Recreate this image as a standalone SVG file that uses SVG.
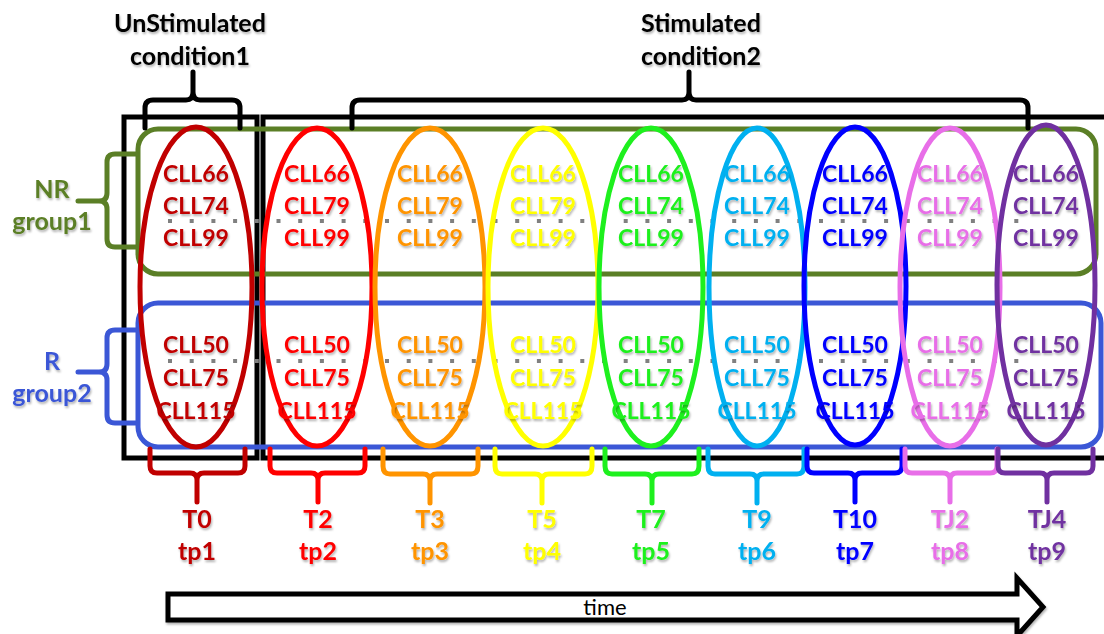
<svg xmlns="http://www.w3.org/2000/svg" width="1104" height="634" viewBox="0 0 1104 634">
<style>
text{font-family:Lato,"Open Sans","Liberation Sans",sans-serif;font-weight:bold;font-size:23px;text-anchor:middle;filter:url(#sh)}
.lbl{font-size:25px}
.el{fill:none;stroke-width:5}
.br{fill:none;stroke-width:5;stroke-linecap:round;stroke-linejoin:round}
.box{fill:none;stroke:#000;stroke-width:5}
.dots{stroke:#808080;stroke-width:4;stroke-dasharray:4 17.7}
</style>
<defs>
<filter id="sh" x="-20%" y="-20%" width="140%" height="160%">
<feDropShadow dx="1" dy="2" stdDeviation="1" flood-color="#000" flood-opacity="0.3"/>
</filter>
</defs>
<rect width="1104" height="634" fill="#fff"/>
<g id="frames">
<rect class="box" x="124" y="117" width="133" height="341"/>
<rect class="box" x="263" y="117" width="860" height="341"/>
</g>
<g id="group-boxes">
<rect id="nr-box" x="138" y="129" width="958" height="145" rx="20" fill="none" stroke="#5b7f26" stroke-width="5"/>
<rect id="r-box" x="138" y="303" width="963" height="144" rx="20" fill="none" stroke="#3b57d6" stroke-width="5"/>
<line class="dots" x1="168" y1="221" x2="1032" y2="221"/>
<line class="dots" x1="168" y1="361" x2="1032" y2="361"/>
</g>
<g id="connectors">
<path class="br" stroke="#000" d="M145,128 V108 Q145,100 153,100 H186 Q193,100 193,92 V72 M193,92 Q193,100 200,100 H232 Q240,100 240,108 V128"/>
<path class="br" stroke="#000" d="M352,128 V108 Q352,100 360,100 H682 Q689,100 689,92 V72 M689,92 Q689,100 696,100 H1020 Q1028,100 1028,108 V128"/>
<path class="br" stroke="#5b7f26" d="M136,154 H115 Q107,154 107,162 V193 Q107,201 99,201 H78 M99,201 Q107,201 107,209 V239 Q107,247 115,247 H136"/>
<path class="br" stroke="#3b57d6" d="M136,330 H115 Q107,330 107,338 V364 Q107,372 99,372 H78 M99,372 Q107,372 107,380 V415 Q107,423 115,423 H136"/>
<path class="br" stroke="#c00000" d="M150,449 V466 Q150,473 157,473 H190 Q197,473 197,480 V502 M197,480 Q197,473 204,473 H238 Q245,473 245,466 V449"/>
<path class="br" stroke="#ff0000" d="M270,449 V466 Q270,473 277,473 H311 Q318,473 318,480 V502 M318,480 Q318,473 325,473 H358 Q365,473 365,466 V449"/>
<path class="br" stroke="#ff9400" d="M383,449 V466 Q383,474 390,474 H423 Q430,474 430,481 V503 M430,481 Q430,474 437,474 H471 Q478,474 478,466 V449"/>
<path class="br" stroke="#ffff00" d="M495,449 V466 Q495,474 502,474 H535 Q542,474 542,481 V503 M542,481 Q542,474 549,474 H585 Q592,474 592,466 V449"/>
<path class="br" stroke="#1ef01e" d="M605,449 V466 Q605,474 612,474 H645 Q652,474 652,481 V503 M652,481 Q652,474 659,474 H692 Q699,474 699,466 V449"/>
<path class="br" stroke="#00b0f0" d="M708,449 V466 Q708,474 715,474 H750 Q757,474 757,481 V503 M757,481 Q757,474 764,474 H797 Q804,474 804,466 V449"/>
<path class="br" stroke="#0000ff" d="M807,449 V466 Q807,473 814,473 H848 Q855,473 855,480 V502 M855,480 Q855,473 862,473 H895 Q902,473 902,466 V449"/>
<path class="br" stroke="#e86ee8" d="M905,449 V466 Q905,473 912,473 H943 Q950,473 950,480 V502 M950,480 Q950,473 957,473 H990 Q997,473 997,466 V449"/>
<path class="br" stroke="#7030a0" d="M998,449 V466 Q998,473 1005,473 H1040 Q1047,473 1047,480 V502 M1047,480 Q1047,473 1054,473 H1086 Q1093,473 1093,466 V449"/>
</g>
<g id="cond1" fill="#000" class="lbl"><text class="lbl" x="190" y="32">UnStimulated</text><text class="lbl" x="190" y="65">condition1</text></g>
<g id="cond2" fill="#000"><text class="lbl" x="701" y="32">Stimulated</text><text class="lbl" x="701" y="65">condition2</text></g>
<g id="group1" fill="#5b7f26"><text class="lbl" x="52" y="198">NR</text><text class="lbl" x="52" y="230">group1</text></g>
<g id="group2" fill="#3b57d6"><text class="lbl" x="52" y="370">R</text><text class="lbl" x="52" y="402">group2</text></g>
<g id="tp1"><ellipse class="el" stroke="#c00000" cx="196" cy="287" rx="56" ry="160"/><g fill="#c00000"><text x="196" y="182">CLL66</text><text x="196" y="214">CLL74</text><text x="196" y="246">CLL99</text><text x="196" y="353">CLL50</text><text x="196" y="386">CLL75</text><text x="196" y="419">CLL115</text><text class="lbl" x="197" y="528">T0</text><text class="lbl" x="197" y="560">tp1</text></g></g>
<g id="tp2"><ellipse class="el" stroke="#ff0000" cx="317" cy="287" rx="55" ry="159"/><g fill="#ff0000"><text x="317" y="182">CLL66</text><text x="317" y="214">CLL79</text><text x="317" y="246">CLL99</text><text x="317" y="353">CLL50</text><text x="317" y="386">CLL75</text><text x="317" y="419">CLL115</text><text class="lbl" x="318" y="528">T2</text><text class="lbl" x="318" y="560">tp2</text></g></g>
<g id="tp3"><ellipse class="el" stroke="#ff9400" cx="430" cy="287" rx="55" ry="159"/><g fill="#ff9400"><text x="430" y="182">CLL66</text><text x="430" y="214">CLL79</text><text x="430" y="246">CLL99</text><text x="430" y="353">CLL50</text><text x="430" y="386">CLL75</text><text x="430" y="419">CLL115</text><text class="lbl" x="430" y="528">T3</text><text class="lbl" x="430" y="560">tp3</text></g></g>
<g id="tp4"><ellipse class="el" stroke="#ffff00" cx="543" cy="287" rx="55" ry="159"/><g fill="#ffff00"><text x="543" y="182">CLL66</text><text x="543" y="214">CLL79</text><text x="543" y="246">CLL99</text><text x="543" y="353">CLL50</text><text x="543" y="386">CLL75</text><text x="543" y="419">CLL115</text><text class="lbl" x="542" y="528">T5</text><text class="lbl" x="542" y="560">tp4</text></g></g>
<g id="tp5"><ellipse class="el" stroke="#1ef01e" cx="651" cy="287" rx="52" ry="159"/><g fill="#1ef01e"><text x="651" y="182">CLL66</text><text x="651" y="214">CLL74</text><text x="651" y="246">CLL99</text><text x="651" y="353">CLL50</text><text x="651" y="386">CLL75</text><text x="651" y="419">CLL115</text><text class="lbl" x="651" y="528">T7</text><text class="lbl" x="651" y="560">tp5</text></g></g>
<g id="tp6"><ellipse class="el" stroke="#00b0f0" cx="757" cy="287" rx="48" ry="159"/><g fill="#00b0f0"><text x="757" y="182">CLL66</text><text x="757" y="214">CLL74</text><text x="757" y="246">CLL99</text><text x="757" y="353">CLL50</text><text x="757" y="386">CLL75</text><text x="757" y="419">CLL115</text><text class="lbl" x="757" y="528">T9</text><text class="lbl" x="757" y="560">tp6</text></g></g>
<g id="tp7"><ellipse class="el" stroke="#0000ff" cx="855" cy="286" rx="51" ry="159"/><g fill="#0000ff"><text x="855" y="182">CLL66</text><text x="855" y="214">CLL74</text><text x="855" y="246">CLL99</text><text x="855" y="353">CLL50</text><text x="855" y="386">CLL75</text><text x="855" y="419">CLL115</text><text class="lbl" x="855" y="528">T10</text><text class="lbl" x="855" y="560">tp7</text></g></g>
<g id="tp8"><ellipse class="el" stroke="#e86ee8" cx="950" cy="287" rx="50" ry="159"/><g fill="#e86ee8"><text x="950" y="182">CLL66</text><text x="950" y="214">CLL74</text><text x="950" y="246">CLL99</text><text x="950" y="353">CLL50</text><text x="950" y="386">CLL75</text><text x="950" y="419">CLL115</text><text class="lbl" x="950" y="528">TJ2</text><text class="lbl" x="950" y="560">tp8</text></g></g>
<g id="tp9"><ellipse class="el" stroke="#7030a0" cx="1046" cy="285" rx="49" ry="160"/><g fill="#7030a0"><text x="1046" y="182">CLL66</text><text x="1046" y="214">CLL74</text><text x="1046" y="246">CLL99</text><text x="1046" y="353">CLL50</text><text x="1046" y="386">CLL75</text><text x="1046" y="419">CLL115</text><text class="lbl" x="1047" y="528">TJ4</text><text class="lbl" x="1047" y="560">tp9</text></g></g>
<g id="time-arrow">
<path d="M168,594 H1017 V578 L1043,607 L1017,636 V620 H168 Z" fill="#fff" stroke="#000" stroke-width="5" stroke-linejoin="miter" filter="url(#sh)"/>
<text x="605" y="615" style="font-weight:normal;font-size:22px;filter:none" fill="#000">time</text>
</g>
</svg>
